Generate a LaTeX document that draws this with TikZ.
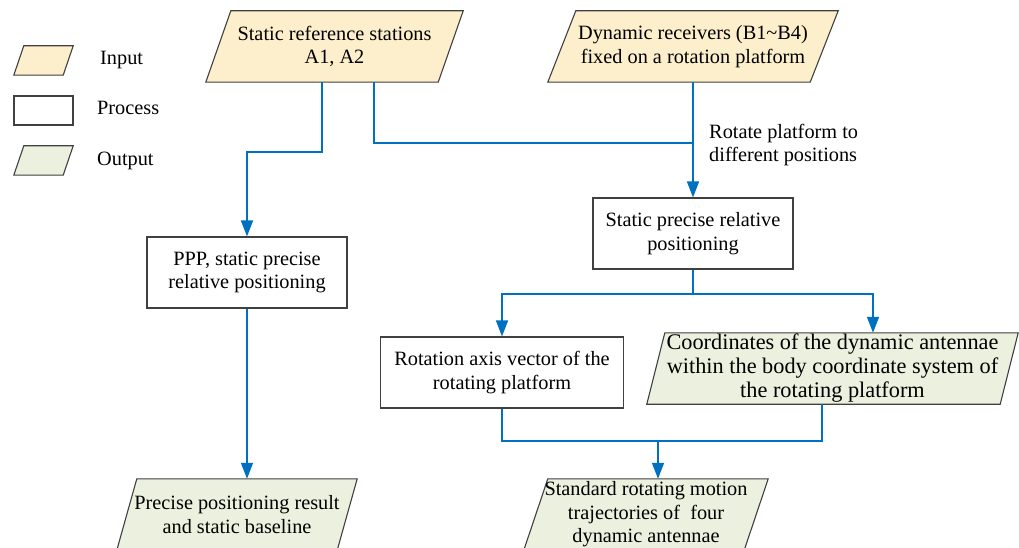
\documentclass[tikz,border=0pt]{standalone}
\usepackage{fontspec}
\setmainfont{Liberation Serif}
\usetikzlibrary{arrows.meta,backgrounds}

\definecolor{flowblue}{HTML}{0070C0}
\definecolor{inputfill}{HTML}{FDEFCB}
\definecolor{outputfill}{HTML}{EBF1DE}
\definecolor{edgegray}{HTML}{404040}

\tikzset{
  txt/.style={font=\fontsize{20.3}{23.5}\selectfont, align=center, inner sep=0pt, text=black},
  procbox/.style={txt, draw=edgegray, line width=1.1pt, fill=white, rectangle},
  inshape/.style={draw=edgegray, line width=1.1pt, fill=inputfill},
  outshape/.style={draw=edgegray, line width=1.1pt, fill=outputfill},
  flow/.style={draw=flowblue, line width=1.5pt},
  flowarrow/.style={flow, -{Triangle[length=16pt,width=12pt]}},
}

% parallelogram drawn around a text node: name, slant, style
\newcommand\paral[3]{%
  \draw[#3] ([xshift=#2]#1.north west) -- (#1.north east)
    -- ([xshift=-#2]#1.south east) -- (#1.south west) -- cycle;}

\begin{document}
\begin{tikzpicture}[x=1pt,y=-1pt]
\useasboundingbox (0,0) rectangle (1019,548);

% legend
\node[txt, minimum width=59pt, minimum height=29pt] (legin) at (43.5,60.5) {};
\node[procbox, minimum width=59pt, minimum height=29pt] (legproc) at (43.5,110.5) {};
\node[txt, minimum width=59pt, minimum height=29pt] (legout) at (43.5,160.5) {};
\node[txt, anchor=base west] (legintxt) at (100,65) {Input};
\node[txt, anchor=base west] (legproctxt) at (97,115) {Process};
\node[txt, anchor=base west] (legouttxt) at (97,166) {Output};

% inputs
\node[txt, minimum width=257pt, minimum height=71pt] (sr) at (334.5,46.5)
  {Static reference stations\\A1, A2};
\node[txt, minimum width=290pt, minimum height=71pt] (dr) at (693,46.5)
  {Dynamic receivers (B1\textasciitilde B4)\\fixed on a rotation platform};

% processes
\node[procbox, minimum width=200pt, minimum height=71pt] (ppp) at (247,272.5)
  {PPP, static precise\\relative positioning};
\node[procbox, minimum width=200pt, minimum height=71pt] (sp) at (693,233.5)
  {Static precise relative\\positioning};
\node[procbox, minimum width=243pt, minimum height=71pt] (rot) at (502,372.5)
  {Rotation axis vector of the\\rotating platform};

% outputs
\node[txt, minimum width=371pt, minimum height=71pt, font=\fontsize{22.3}{24}\selectfont] (co) at (832.5,368.5)
  {Coordinates of the dynamic antennae\\within the body coordinate system of\\the rotating platform};
\node[txt, minimum width=244pt, minimum height=71pt] (st) at (646,514.5)
  {Standard rotating motion\\trajectories of\ \ four\\dynamic antennae};
\node[txt, minimum width=240pt, minimum height=71pt] (pr) at (237,514.5)
  {Precise positioning result\\and static baseline};

\node[txt, align=left, anchor=west] (rotlbl) at (709,145)
  {Rotate platform to\\different positions};

% parallelogram outlines behind the texts
\begin{scope}[on background layer]
  \paral{legin}{10}{inshape}
  \paral{legout}{10}{outshape}
  \paral{sr}{25}{inshape}
  \paral{dr}{28}{inshape}
  \paral{co}{18}{outshape}
  \paral{st}{24}{outshape}
  \paral{pr}{20}{outshape}
\end{scope}

% connector bends
\coordinate (j1) at (247,152);
\coordinate (j2) at (693,143);
\coordinate (j3) at (693,294);
\coordinate (j4) at (658,441);

\draw[flowarrow] ([xshift=-12.5]sr.south) |- (j1) -- (ppp.north);
\draw[flow] ([xshift=39.5]sr.south) |- (j2);
\draw[flowarrow] (dr.south) -- (sp.north);
\draw[flow] (sp.south) -- (j3);
\draw[flowarrow] (j3) -| (rot.north);
\draw[flowarrow] (j3) -| ([xshift=40.5]co.north);
\draw[flow] (rot.south) |- (j4);
\draw[flow] ([xshift=-10.5]co.south) |- (j4);
\draw[flowarrow] (j4) -- ([xshift=12]st.north);
\draw[flowarrow] (ppp.south) -- ([xshift=10]pr.north);
\end{tikzpicture}
\end{document}
